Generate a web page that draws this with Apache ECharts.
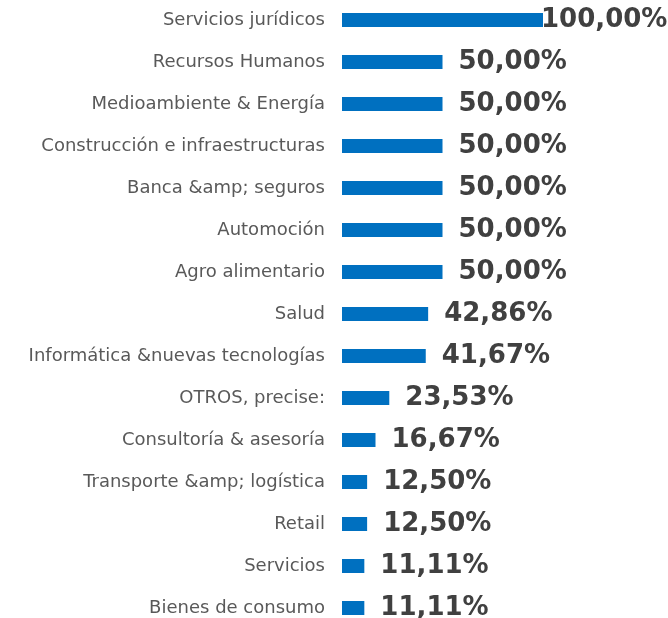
<!DOCTYPE html>
<html>
<head>
<meta charset="utf-8">
<script src="https://cdn.jsdelivr.net/npm/echarts@6/dist/echarts.min.js"></script>
<style>
  html, body { margin: 0; padding: 0; background: #ffffff; }
  #chart { width: 668px; height: 618px; }
</style>
</head>
<body>
<div id="chart"></div>
<script>
// Sectors, listed top to bottom
const categories = [
  'Servicios jurídicos',
  'Recursos Humanos',
  'Medioambiente & Energía',
  'Construcción e infraestructuras',
  'Banca &amp; seguros',
  'Automoción',
  'Agro alimentario',
  'Salud',
  'Informática &nuevas tecnologías',
  'OTROS, precise:',
  'Consultoría & asesoría',
  'Transporte &amp; logística',
  'Retail',
  'Servicios',
  'Bienes de consumo'
];

// Share per sector, in percent
const shares = [100, 50, 50, 50, 50, 50, 50, 42.86, 41.67, 23.53, 16.67, 12.5, 12.5, 11.11, 11.11];

const chart = echarts.init(document.getElementById('chart'), null, { renderer: 'canvas' });

const fmt = v => v.toFixed(2).replace('.', ',') + '%';

const seriesData = shares.map(v => {
  const item = { value: v };
  // the full-length bar would push its label past the right edge
  if (v >= 100) item.label = { distance: -2 };
  return item;
});

chart.setOption({
  backgroundColor: '#ffffff',
  animation: false,
  grid: {
    left: 342, top: -1, width: 201, height: 630,
    containLabel: false, outerBoundsMode: 'none'
  },
  xAxis: {
    type: 'value', min: 0, max: 100,
    show: false
  },
  yAxis: {
    type: 'category',
    data: categories,
    inverse: true,
    axisLine: { show: false },
    axisTick: { show: false },
    axisLabel: {
      margin: 17,
      color: '#595959',
      fontFamily: 'DejaVu Sans',
      fontSize: 18
    }
  },
  series: [{
    type: 'bar',
    data: seriesData,
    barWidth: 14,
    itemStyle: { color: '#0070C0' },
    label: {
      show: true,
      position: 'right',
      distance: 16,
      formatter: p => fmt(p.value),
      color: '#404040',
      fontFamily: 'DejaVu Sans',
      fontWeight: 'bold',
      fontSize: 26
    }
  }]
});
</script>
</body>
</html>
